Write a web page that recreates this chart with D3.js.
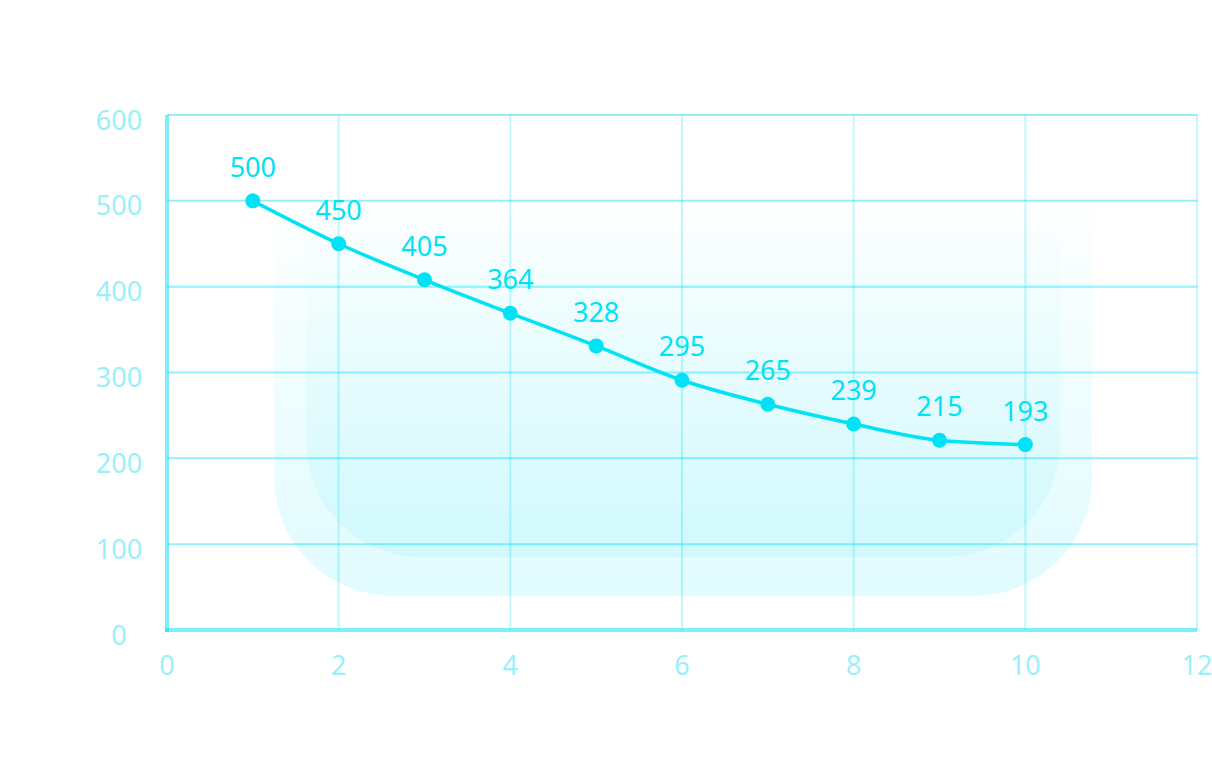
<!DOCTYPE html>
<html>
<head>
<meta charset="utf-8">
<script src="https://cdn.jsdelivr.net/npm/d3@7"></script>
<style>
  html, body { margin: 0; padding: 0; background: #ffffff; }
  svg { display: block; font-family: "Noto Sans", "Open Sans", sans-serif; }
</style>
</head>
<body>
<svg id="chart" width="1212" height="776"></svg>
<script>
// ---- data ----
const xValues = [1, 2, 3, 4, 5, 6, 7, 8, 9, 10];
const pointValues = [500, 450, 408, 369, 331, 291, 263, 240, 221, 216];
const labelTexts = ["500", "450", "405", "364", "328", "295", "265", "239", "215", "193"];
const xTicks = [0, 2, 4, 6, 8, 10, 12];
const yTicks = [0, 100, 200, 300, 400, 500, 600];

// ---- setup ----
const svg = d3.select("#chart");
const x = d3.scaleLinear().domain([0, 12]).range([167, 1197]);
const y = d3.scaleLinear().domain([0, 600]).range([630, 115]);

const cyan = "#00e2f6";
const defs = svg.append("defs");

function grad(id, top, bottom, a0, a1) {
  const g = defs.append("linearGradient").attr("id", id)
    .attr("gradientUnits", "userSpaceOnUse")
    .attr("x1", 0).attr("x2", 0).attr("y1", top).attr("y2", bottom);
  g.append("stop").attr("offset", "0%").attr("stop-color", "#00e0f5").attr("stop-opacity", a0);
  g.append("stop").attr("offset", "100%").attr("stop-color", "#00e0f5").attr("stop-opacity", a1);
}

function roundedRect(x0, y0, x1, y1, rt, rb) {
  return `M${x0},${y0 + rt} A${rt},${rt} 0 0 1 ${x0 + rt},${y0} L${x1 - rt},${y0} A${rt},${rt} 0 0 1 ${x1},${y0 + rt}
          L${x1},${y1 - rb} A${rb},${rb} 0 0 1 ${x1 - rb},${y1} L${x0 + rb},${y1} A${rb},${rb} 0 0 1 ${x0},${y1 - rb} Z`;
}

// decorative background shapes (drawn in the plot's coordinate space)
grad("gOuter", y(530), y(40), 0.0, 0.12);
grad("gInner", y(500), y(85), 0.0, 0.09);
svg.append("path")
  .attr("d", roundedRect(x(1.25), y(550), x(10.78), y(40), 60, 118))
  .attr("fill", "url(#gOuter)");
svg.append("path")
  .attr("d", roundedRect(x(1.62), y(510), x(10.41), y(85), 50, 115))
  .attr("fill", "url(#gInner)");

// ---- grid ----
svg.append("g").selectAll("line").data(xTicks.filter(d => d > 0)).join("line")
  .attr("x1", d => x(d)).attr("x2", d => x(d))
  .attr("y1", y(600)).attr("y2", y(0))
  .attr("stroke", "rgba(0,222,243,0.24)").attr("stroke-width", 2);
svg.append("g").selectAll("line").data(yTicks.filter(d => d > 0)).join("line")
  .attr("x1", x(0)).attr("x2", x(12))
  .attr("y1", d => y(d)).attr("y2", d => y(d))
  .attr("stroke", "rgba(0,222,243,0.42)").attr("stroke-width", 2);

// axis lines
svg.append("line").attr("x1", x(0)).attr("x2", x(0)).attr("y1", y(600)).attr("y2", y(0) + 2)
  .attr("stroke", "rgba(0,222,243,0.5)").attr("stroke-width", 4);
svg.append("line").attr("x1", x(0) - 2).attr("x2", x(12)).attr("y1", y(0)).attr("y2", y(0))
  .attr("stroke", "rgba(0,222,243,0.5)").attr("stroke-width", 4);

// tick labels
const tickColor = "#9af0fa";
svg.append("g").selectAll("text").data(yTicks).join("text")
  .attr("x", 119).attr("y", d => y(d) + 4)
  .attr("text-anchor", "middle").attr("dominant-baseline", "central")
  .attr("font-size", 27).attr("fill", tickColor)
  .text(d => d);
svg.append("g").selectAll("text").data(xTicks).join("text")
  .attr("x", d => x(d)).attr("y", 664)
  .attr("text-anchor", "middle").attr("dominant-baseline", "central")
  .attr("font-size", 27).attr("fill", tickColor)
  .text(d => d);

// ---- line ----
const data = xValues.map((v, i) => ({ x: v, y: pointValues[i], label: labelTexts[i] }));
const line = d3.line().x(d => x(d.x)).y(d => y(d.y)).curve(d3.curveMonotoneX);
svg.append("path").datum(data)
  .attr("d", line).attr("fill", "none")
  .attr("stroke", cyan).attr("stroke-width", 3.5);

svg.append("g").selectAll("circle").data(data).join("circle")
  .attr("cx", d => x(d.x)).attr("cy", d => y(d.y)).attr("r", 7.5)
  .attr("fill", cyan);

svg.append("g").selectAll("text").data(data).join("text")
  .attr("x", d => x(d.x)).attr("y", d => y(d.y) - 24)
  .attr("text-anchor", "middle")
  .attr("font-size", 27).attr("fill", cyan)
  .text(d => d.label);
</script>
</body>
</html>
